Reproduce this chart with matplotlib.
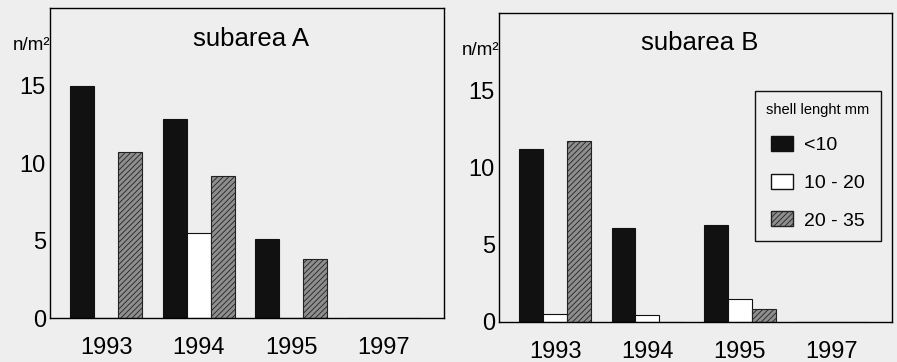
import numpy as np
import matplotlib.pyplot as plt
from matplotlib.patches import Patch

plt.rcParams['font.family'] = ['Liberation Sans', 'DejaVu Sans']
plt.rcParams['hatch.linewidth'] = 0.6

# data
years = ['1993', '1994', '1995', '1997']
classes = ['<10', '10 - 20', '20 - 35']
a_small = [15.0, 12.85, 5.1, 0]
a_mid = [0, 5.5, 0, 0]
a_large = [10.7, 9.15, 3.8, 0]
b_small = [11.2, 6.05, 6.3, 0]
b_mid = [0.5, 0.45, 1.45, 0]
b_large = [11.7, 0, 0.85, 0]

bg = '#eeeeee'
fig = plt.figure(figsize=(8.97, 3.62), dpi=100, facecolor=bg)
ax1 = fig.add_axes([0.0557, 0.1215, 0.4392, 0.856])
ax2 = fig.add_axes([0.5563, 0.1113, 0.438, 0.852])

x = np.arange(len(years))
w = 0.26

def draw(ax, small, mid, large, title, ty):
    ax.set_facecolor(bg)
    ax.bar(x - w, small, w, color='#111111', edgecolor='#111111', lw=0.8)
    ax.bar(x, mid, w, color='white', edgecolor='#111111', lw=0.8)
    ax.bar(x + w, large, w, color='#8e8e8e', edgecolor='#222222', hatch='//////', lw=0.8)
    ax.set_ylim(0, 20)
    ax.set_xlim(-0.61, 3.65)
    ax.set_yticks([0, 5, 10, 15])
    ax.set_xticks(x)
    ax.set_xticklabels(years)
    ax.tick_params(length=0, labelsize=17)
    ax.tick_params(axis='x', pad=14)
    ax.tick_params(axis='y', pad=3)
    for s in ax.spines.values():
        s.set_linewidth(1.0)
    ax.text(0.51, ty, title, transform=ax.transAxes, ha='center', va='center', fontsize=18.5)
    ax.text(0.0, 0.88, 'n/m²', transform=ax.transAxes, ha='right', va='center', fontsize=13.5)

draw(ax1, a_small, a_mid, a_large, 'subarea A', 0.90)
draw(ax2, b_small, b_mid, b_large, 'subarea B', 0.905)

handles = [Patch(facecolor='#111111', edgecolor='#111111'),
           Patch(facecolor='white', edgecolor='#111111'),
           Patch(facecolor='#8e8e8e', edgecolor='#222222', hatch='//////')]
leg = ax2.legend(handles, classes, title='shell lenght mm', loc='upper left',
                 bbox_to_anchor=(0.651, 0.748), fontsize=14, title_fontsize=10.5,
                 frameon=True, fancybox=False, edgecolor='#111111', facecolor=bg,
                 framealpha=1, handlelength=1.1, handleheight=0.8, labelspacing=1.0,
                 handletextpad=0.6, borderpad=0.6, borderaxespad=0)
leg.get_frame().set_linewidth(1.0)

fig.savefig('out.png', dpi=100, facecolor=bg)
